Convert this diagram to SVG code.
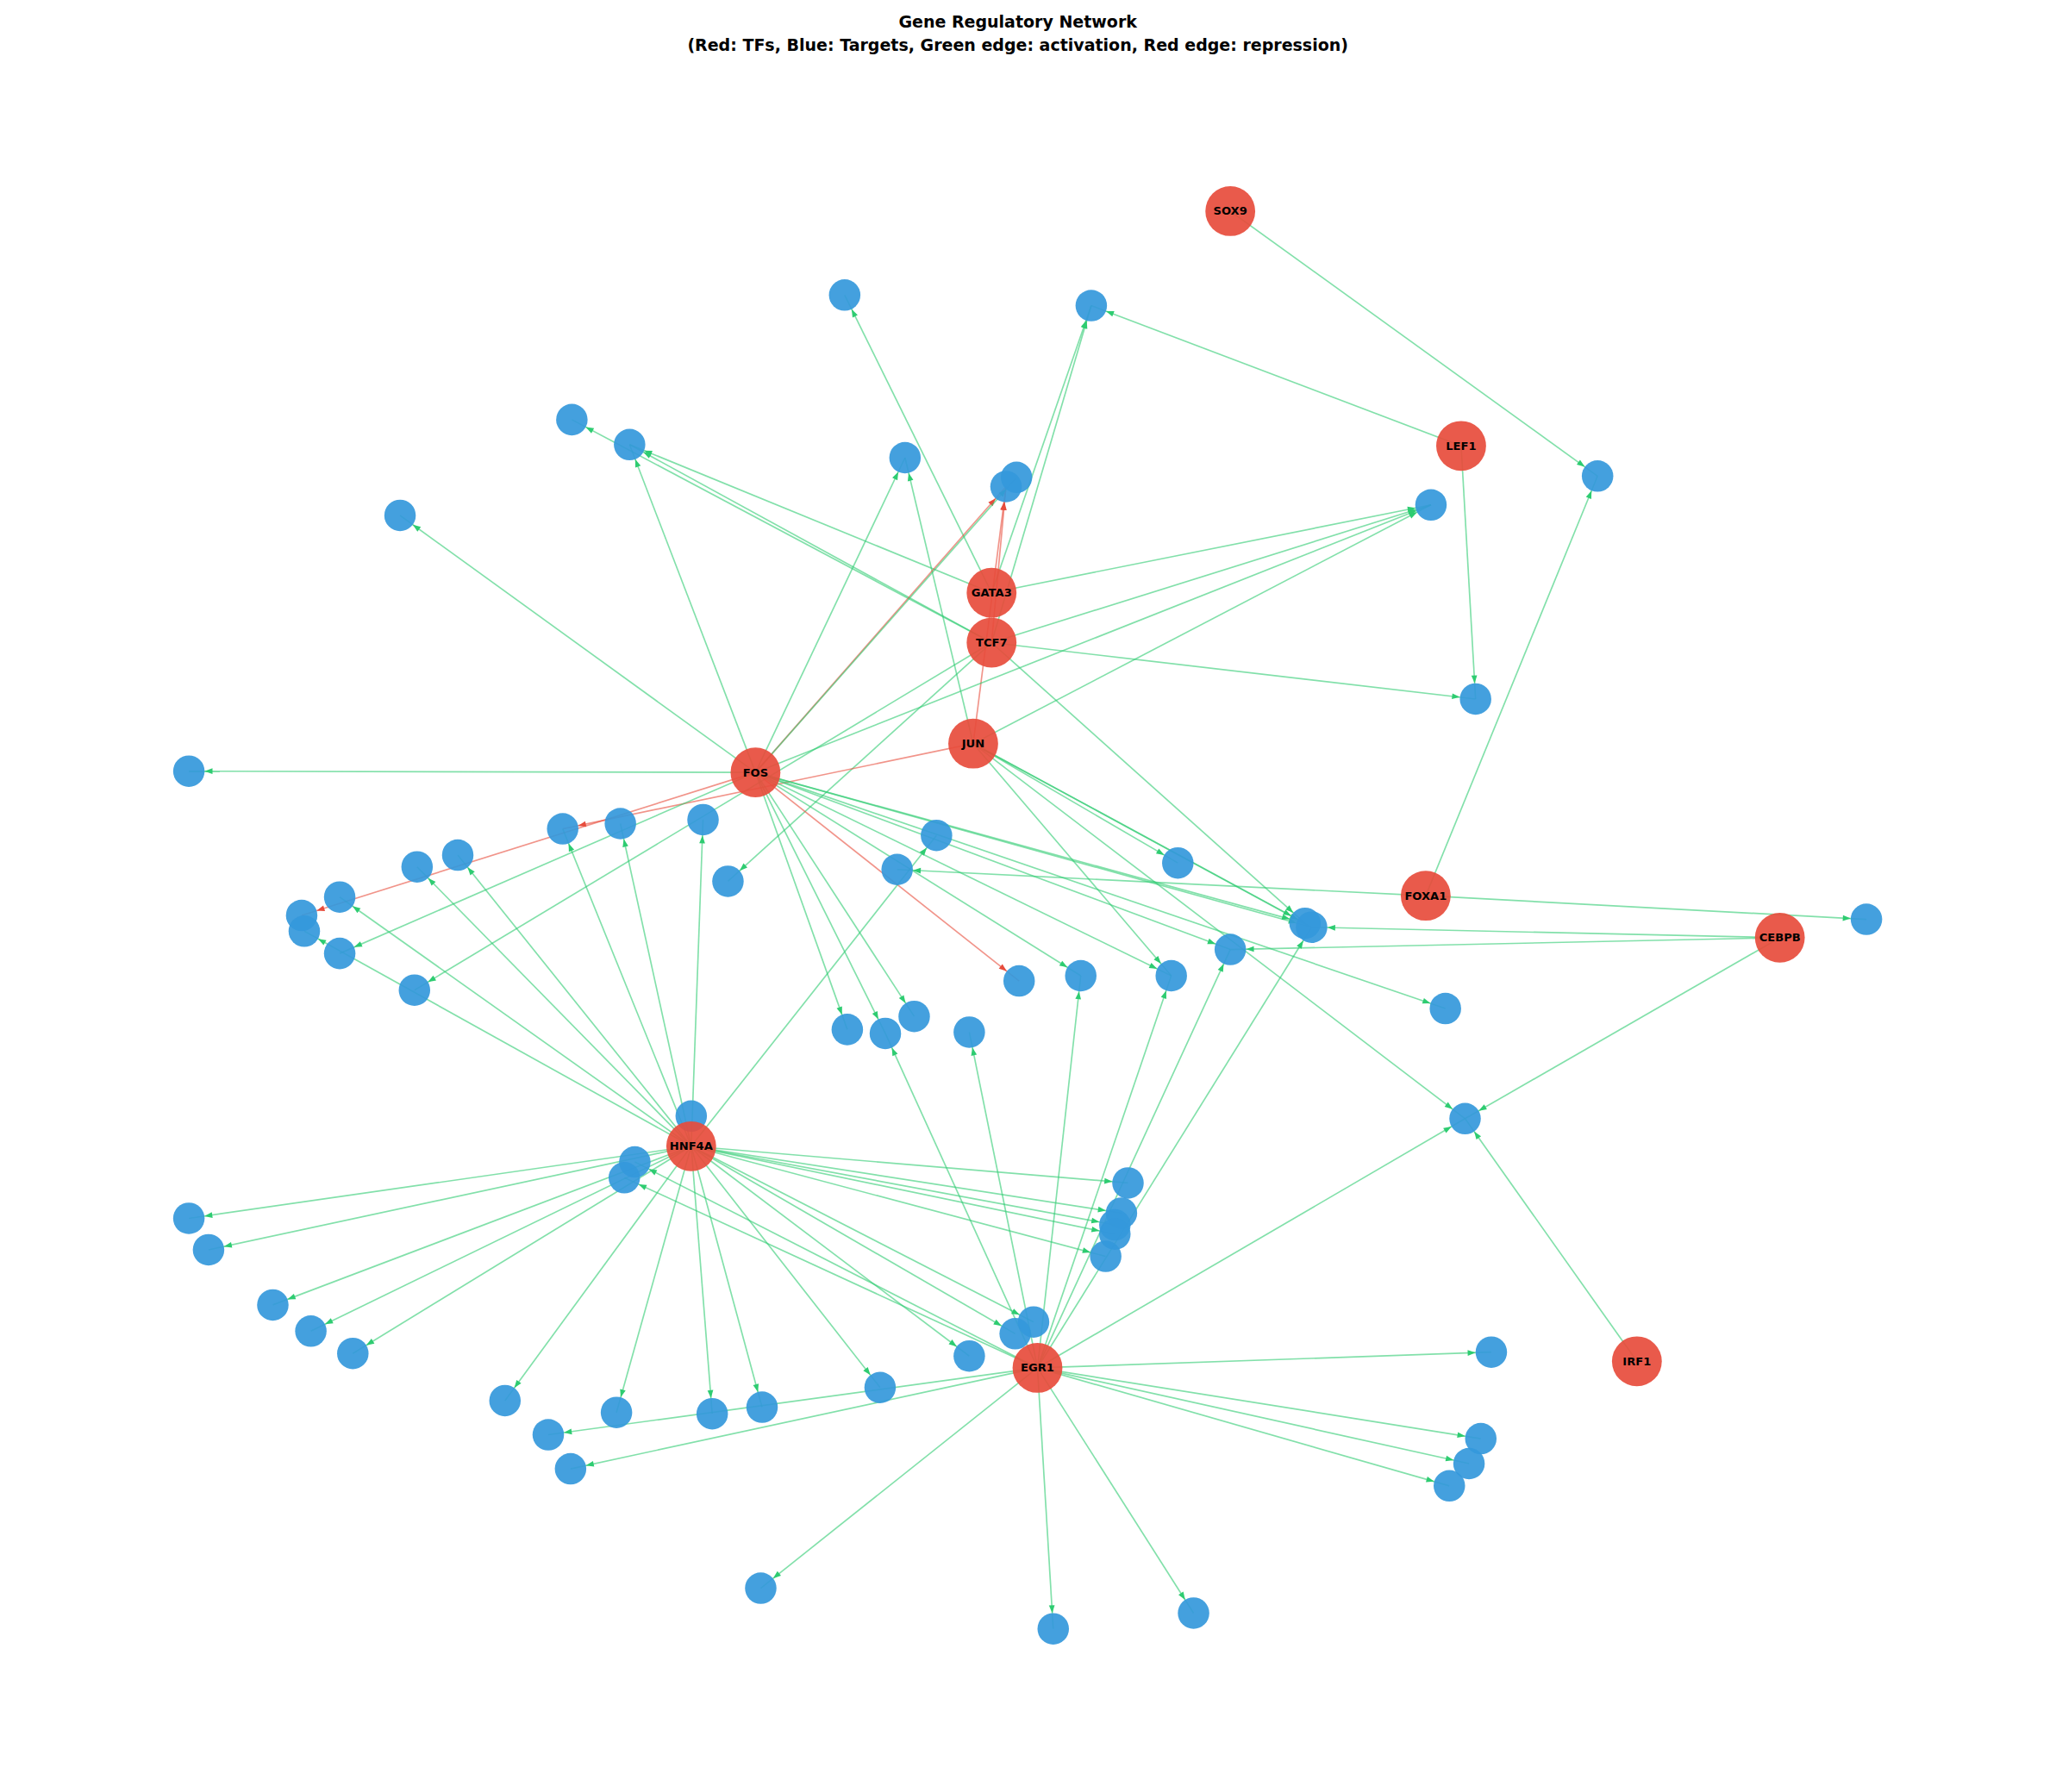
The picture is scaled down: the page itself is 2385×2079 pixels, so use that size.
<svg xmlns="http://www.w3.org/2000/svg" width="2385" height="2079" viewBox="0 0 2385 2079">
<defs>
<style>
.g{stroke:#2ecc71;stroke-opacity:0.6;stroke-width:1.1;fill:none;marker-end:url(#ag)}
.r{stroke:#e74c3c;stroke-opacity:0.6;stroke-width:1.1;fill:none;marker-end:url(#ar)}
.tf circle{fill:#e74c3c;fill-opacity:0.92}
.tg circle{fill:#3498db;fill-opacity:0.92}
.tf text{font-family:"DejaVu Sans",sans-serif;font-weight:bold;font-size:8.6px;text-anchor:middle;dominant-baseline:central;fill:#000}
.title{font-family:"DejaVu Sans",sans-serif;font-weight:bold;font-size:12.5px;text-anchor:middle;fill:#000}
</style>
<marker id="ag" markerUnits="userSpaceOnUse" viewBox="0 -3 20 6" markerWidth="20" markerHeight="6" refX="18" refY="0" orient="auto" overflow="visible"><path d="M0,-2.2 L6,0 L0,2.2z" fill="#2ecc71"/></marker>
<marker id="ar" markerUnits="userSpaceOnUse" viewBox="0 -3 20 6" markerWidth="20" markerHeight="6" refX="18" refY="0" orient="auto" overflow="visible"><path d="M0,-2.2 L6,0 L0,2.2z" fill="#e74c3c"/></marker>
</defs>
<rect width="2385" height="2079" fill="#fff"/>
<g transform="scale(1.5215)">
<text class="title" x="776" y="21">Gene Regulatory Network</text>
<text class="title" x="776" y="39">(Red: TFs, Blue: Targets, Green edge: activation, Red edge: repression)</text>
<g id="edges">
<line class="g" x1="938" y1="161" x2="1218" y2="363"/>
<line class="g" x1="1114" y1="340" x2="832" y2="233"/>
<line class="g" x1="1114" y1="340" x2="1125" y2="533"/>
<line class="g" x1="756" y1="452" x2="480" y2="339"/>
<line class="g" x1="756" y1="452" x2="832" y2="233"/>
<line class="g" x1="756" y1="452" x2="1091" y2="385"/>
<line class="g" x1="756" y1="452" x2="644" y2="225"/>
<line class="g" x1="756" y1="490" x2="480" y2="339"/>
<line class="g" x1="756" y1="490" x2="436" y2="320"/>
<line class="g" x1="756" y1="490" x2="1091" y2="385"/>
<line class="g" x1="756" y1="490" x2="1125" y2="533"/>
<line class="g" x1="756" y1="490" x2="832" y2="233"/>
<line class="g" x1="756" y1="490" x2="555" y2="672"/>
<line class="g" x1="756" y1="490" x2="995" y2="704"/>
<line class="g" x1="756" y1="490" x2="316" y2="755"/>
<line class="r" x1="756" y1="490" x2="767" y2="371"/>
<line class="g" x1="742" y1="567" x2="690" y2="349"/>
<line class="g" x1="742" y1="567" x2="1091" y2="385"/>
<line class="r" x1="742" y1="567" x2="767" y2="371"/>
<line class="r" x1="742" y1="567" x2="429" y2="632"/>
<line class="g" x1="742" y1="567" x2="898" y2="658"/>
<line class="g" x1="742" y1="567" x2="995" y2="704"/>
<line class="g" x1="742" y1="567" x2="893" y2="744"/>
<line class="g" x1="742" y1="567" x2="1117" y2="853"/>
<line class="g" x1="742" y1="567" x2="1000" y2="707"/>
<line class="g" x1="576" y1="589" x2="305" y2="393"/>
<line class="g" x1="576" y1="589" x2="480" y2="339"/>
<line class="g" x1="576" y1="589" x2="690" y2="349"/>
<line class="r" x1="576" y1="589" x2="767" y2="371"/>
<line class="g" x1="576" y1="589" x2="775" y2="364"/>
<line class="g" x1="576" y1="589" x2="1091" y2="385"/>
<line class="g" x1="576" y1="589" x2="144" y2="588"/>
<line class="r" x1="576" y1="589" x2="230" y2="698"/>
<line class="g" x1="576" y1="589" x2="259" y2="727"/>
<line class="r" x1="576" y1="589" x2="777" y2="748"/>
<line class="g" x1="576" y1="589" x2="824" y2="744"/>
<line class="g" x1="576" y1="589" x2="893" y2="744"/>
<line class="g" x1="576" y1="589" x2="995" y2="704"/>
<line class="g" x1="576" y1="589" x2="938" y2="724"/>
<line class="g" x1="576" y1="589" x2="1102" y2="769"/>
<line class="g" x1="576" y1="589" x2="697" y2="775"/>
<line class="g" x1="576" y1="589" x2="646" y2="785"/>
<line class="g" x1="576" y1="589" x2="675" y2="788"/>
<line class="g" x1="576" y1="589" x2="1000" y2="707"/>
<line class="g" x1="1087" y1="683" x2="1423" y2="701"/>
<line class="g" x1="1087" y1="683" x2="684" y2="663"/>
<line class="g" x1="1087" y1="683" x2="1218" y2="363"/>
<line class="g" x1="1357" y1="715" x2="1000" y2="707"/>
<line class="g" x1="1357" y1="715" x2="938" y2="724"/>
<line class="g" x1="1357" y1="715" x2="1117" y2="853"/>
<line class="g" x1="1248" y1="1038" x2="1117" y2="853"/>
<line class="g" x1="527" y1="874" x2="429" y2="632"/>
<line class="g" x1="527" y1="874" x2="473" y2="628"/>
<line class="g" x1="527" y1="874" x2="536" y2="625"/>
<line class="g" x1="527" y1="874" x2="349" y2="652"/>
<line class="g" x1="527" y1="874" x2="318" y2="661"/>
<line class="g" x1="527" y1="874" x2="259" y2="684"/>
<line class="g" x1="527" y1="874" x2="232" y2="710"/>
<line class="g" x1="527" y1="874" x2="714" y2="637"/>
<line class="g" x1="527" y1="874" x2="144" y2="929"/>
<line class="g" x1="527" y1="874" x2="159" y2="953"/>
<line class="g" x1="527" y1="874" x2="208" y2="995"/>
<line class="g" x1="527" y1="874" x2="237" y2="1015"/>
<line class="g" x1="527" y1="874" x2="269" y2="1032"/>
<line class="g" x1="527" y1="874" x2="385" y2="1068"/>
<line class="g" x1="527" y1="874" x2="470" y2="1077"/>
<line class="g" x1="527" y1="874" x2="543" y2="1078"/>
<line class="g" x1="527" y1="874" x2="581" y2="1073"/>
<line class="g" x1="527" y1="874" x2="671" y2="1058"/>
<line class="g" x1="527" y1="874" x2="788" y2="1008"/>
<line class="g" x1="527" y1="874" x2="774" y2="1017"/>
<line class="g" x1="527" y1="874" x2="739" y2="1034"/>
<line class="g" x1="527" y1="874" x2="860" y2="902"/>
<line class="g" x1="527" y1="874" x2="855" y2="925"/>
<line class="g" x1="527" y1="874" x2="850" y2="934"/>
<line class="g" x1="527" y1="874" x2="850" y2="941"/>
<line class="g" x1="527" y1="874" x2="843" y2="958"/>
<line class="g" x1="791" y1="1043" x2="675" y2="788"/>
<line class="g" x1="791" y1="1043" x2="739" y2="787"/>
<line class="g" x1="791" y1="1043" x2="824" y2="744"/>
<line class="g" x1="791" y1="1043" x2="893" y2="744"/>
<line class="g" x1="791" y1="1043" x2="938" y2="724"/>
<line class="g" x1="791" y1="1043" x2="1000" y2="707"/>
<line class="g" x1="791" y1="1043" x2="1117" y2="853"/>
<line class="g" x1="791" y1="1043" x2="1137" y2="1031"/>
<line class="g" x1="791" y1="1043" x2="1129" y2="1097"/>
<line class="g" x1="791" y1="1043" x2="1120" y2="1116"/>
<line class="g" x1="791" y1="1043" x2="1105" y2="1133"/>
<line class="g" x1="791" y1="1043" x2="580" y2="1211"/>
<line class="g" x1="791" y1="1043" x2="910" y2="1230"/>
<line class="g" x1="791" y1="1043" x2="803" y2="1242"/>
<line class="g" x1="791" y1="1043" x2="484" y2="886"/>
<line class="g" x1="791" y1="1043" x2="476" y2="898"/>
<line class="g" x1="791" y1="1043" x2="418" y2="1094"/>
<line class="g" x1="791" y1="1043" x2="435" y2="1120"/>
</g>
<g id="SOX9" class="tf"><circle cx="938" cy="161" r="19"/><text x="938" y="161">SOX9</text></g>
<g id="LEF1" class="tf"><circle cx="1114" cy="340" r="19"/><text x="1114" y="340">LEF1</text></g>
<g id="GATA3" class="tf"><circle cx="756" cy="452" r="19"/><text x="756" y="452">GATA3</text></g>
<g id="TCF7" class="tf"><circle cx="756" cy="490" r="19"/><text x="756" y="490">TCF7</text></g>
<g id="JUN" class="tf"><circle cx="742" cy="567" r="19"/><text x="742" y="567">JUN</text></g>
<g id="FOS" class="tf"><circle cx="576" cy="589" r="19"/><text x="576" y="589">FOS</text></g>
<g id="FOXA1" class="tf"><circle cx="1087" cy="683" r="19"/><text x="1087" y="683">FOXA1</text></g>
<g id="CEBPB" class="tf"><circle cx="1357" cy="715" r="19"/><text x="1357" y="715">CEBPB</text></g>
<g id="IRF1" class="tf"><circle cx="1248" cy="1038" r="19"/><text x="1248" y="1038">IRF1</text></g>
<g id="EGR1" class="tf"><circle cx="791" cy="1043" r="19"/><text x="791" y="1043">EGR1</text></g>
<g id="targets" class="tg">
<circle cx="644" cy="225" r="12"/><circle cx="832" cy="233" r="12"/><circle cx="436" cy="320" r="12"/><circle cx="480" cy="339" r="12"/><circle cx="690" cy="349" r="12"/><circle cx="775" cy="364" r="12"/><circle cx="767" cy="371" r="12"/><circle cx="305" cy="393" r="12"/><circle cx="1091" cy="385" r="12"/><circle cx="1218" cy="363" r="12"/><circle cx="1125" cy="533" r="12"/><circle cx="144" cy="588" r="12"/><circle cx="429" cy="632" r="12"/><circle cx="473" cy="628" r="12"/><circle cx="536" cy="625" r="12"/><circle cx="714" cy="637" r="12"/><circle cx="349" cy="652" r="12"/><circle cx="318" cy="661" r="12"/><circle cx="684" cy="663" r="12"/><circle cx="555" cy="672" r="12"/><circle cx="898" cy="658" r="12"/><circle cx="259" cy="684" r="12"/><circle cx="230" cy="698" r="12"/><circle cx="232" cy="710" r="12"/><circle cx="259" cy="727" r="12"/><circle cx="316" cy="755" r="12"/><circle cx="995" cy="704" r="12"/><circle cx="1000" cy="707" r="12"/><circle cx="938" cy="724" r="12"/><circle cx="1423" cy="701" r="12"/><circle cx="777" cy="748" r="12"/><circle cx="824" cy="744" r="12"/><circle cx="893" cy="744" r="12"/><circle cx="1102" cy="769" r="12"/><circle cx="697" cy="775" r="12"/><circle cx="646" cy="785" r="12"/><circle cx="675" cy="788" r="12"/><circle cx="739" cy="787" r="12"/><circle cx="1117" cy="853" r="12"/><circle cx="527" cy="851" r="12"/>
</g>
<g id="HNF4A" class="tf"><circle cx="527" cy="874" r="19"/><text x="527" y="874">HNF4A</text></g>
<g id="targets2" class="tg">
<circle cx="484" cy="886" r="12"/><circle cx="476" cy="898" r="12"/><circle cx="144" cy="929" r="12"/><circle cx="159" cy="953" r="12"/><circle cx="860" cy="902" r="12"/><circle cx="855" cy="925" r="12"/><circle cx="850" cy="934" r="12"/><circle cx="850" cy="941" r="12"/><circle cx="843" cy="958" r="12"/><circle cx="208" cy="995" r="12"/><circle cx="237" cy="1015" r="12"/><circle cx="269" cy="1032" r="12"/><circle cx="788" cy="1008" r="12"/><circle cx="774" cy="1017" r="12"/><circle cx="739" cy="1034" r="12"/><circle cx="1137" cy="1031" r="12"/><circle cx="671" cy="1058" r="12"/><circle cx="385" cy="1068" r="12"/><circle cx="470" cy="1077" r="12"/><circle cx="543" cy="1078" r="12"/><circle cx="581" cy="1073" r="12"/><circle cx="418" cy="1094" r="12"/><circle cx="435" cy="1120" r="12"/><circle cx="1129" cy="1097" r="12"/><circle cx="1120" cy="1116" r="12"/><circle cx="1105" cy="1133" r="12"/><circle cx="580" cy="1211" r="12"/><circle cx="910" cy="1230" r="12"/><circle cx="803" cy="1242" r="12"/>
</g>
</g>
</svg>
